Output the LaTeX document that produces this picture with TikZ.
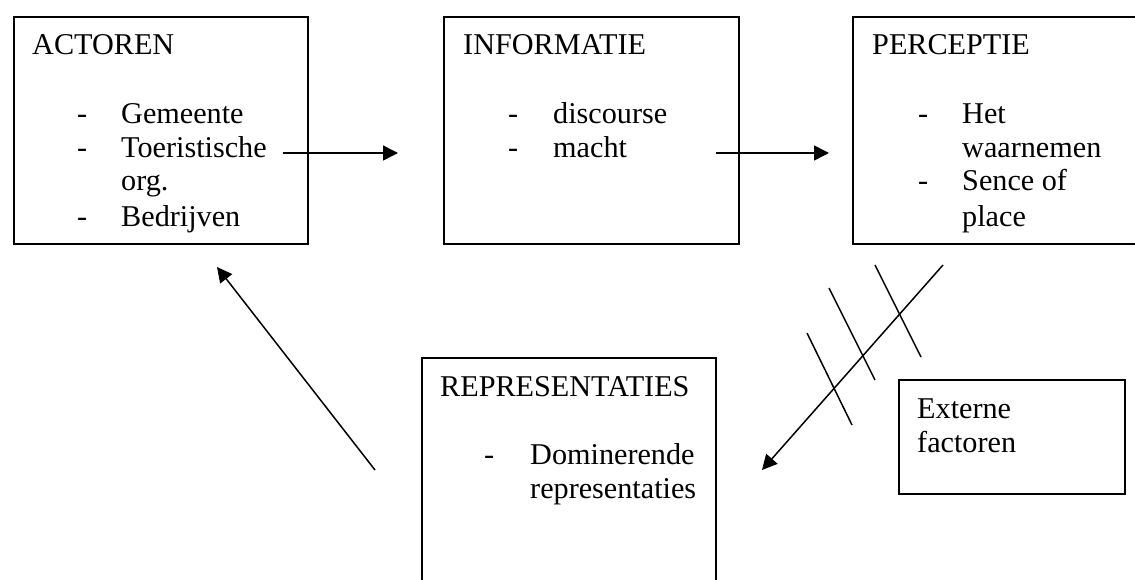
\documentclass[tikz,border=0pt]{standalone}
\usepackage{fontspec}
\setmainfont{Liberation Serif}
\usetikzlibrary{arrows.meta}

\begin{document}
\begin{tikzpicture}[x=1pt, y=-1pt,
  kader/.style={draw, line width=1.8pt, anchor=north west, inner sep=0pt},
  tekst/.style={anchor=base west, inner sep=0pt, font=\fontsize{30.2}{34}\selectfont},
  pijl/.style={line width=1.5pt, -{Triangle[length=15pt, width=15pt]}},
  streep/.style={line width=1.5pt}]
  \useasboundingbox (0,0) rectangle (1135,580);
  \clip (0,0) rectangle (1135,580);

  % kaders
  \node[kader, minimum width=294, minimum height=227] (actoren) at (13,16) {};
  \node[kader, minimum width=295, minimum height=227] (informatie) at (443,16) {};
  \node[kader, minimum width=320, minimum height=227] (perceptie) at (852,16) {};
  \node[kader, minimum width=294, minimum height=260] (repr) at (421,357) {};
  \node[kader, minimum width=226, minimum height=114] (extern) at (898,379) {};

  % ACTOREN
  \node[tekst] (t-act) at (32,55) {ACTOREN};
  \node[tekst] (s-act1) at (77,124) {-};
  \node[tekst] (s-act2) at (77,158) {-};
  \node[tekst] (s-act3) at (77,226) {-};
  \node[tekst] (i-act1) at (121,124) {Gemeente};
  \node[tekst] (i-act2) at (121,158) {Toeristische};
  \node[tekst] (i-act2b) at (121,191) {org.};
  \node[tekst] (i-act3) at (121,226) {Bedrijven};

  % INFORMATIE
  \node[tekst] (t-inf) at (463,55) {INFORMATIE};
  \node[tekst] (s-inf1) at (508,124) {-};
  \node[tekst] (s-inf2) at (508,158) {-};
  \node[tekst] (i-inf1) at (553,124) {discourse};
  \node[tekst] (i-inf2) at (553,158) {macht};

  % PERCEPTIE
  \node[tekst] (t-per) at (872,55) {PERCEPTIE};
  \node[tekst] (s-per1) at (918,124) {-};
  \node[tekst] (s-per2) at (918,191) {-};
  \node[tekst] (i-per1) at (962,124) {Het};
  \node[tekst] (i-per1b) at (962,158) {waarnemen};
  \node[tekst] (i-per2) at (962,191) {Sence of};
  \node[tekst] (i-per2b) at (962,226) {place};

  % REPRESENTATIES
  \node[tekst] (t-rep) at (440,396) {REPRESENTATIES};
  \node[tekst] (s-rep1) at (484,464) {-};
  \node[tekst] (i-rep1) at (530,464) {Dominerende};
  \node[tekst] (i-rep1b) at (530,498) {representaties};

  % Externe factoren
  \node[tekst] (t-ext) at (917,418) {Externe};
  \node[tekst] (t-ext2) at (917,452) {factoren};

  % pijlen
  \coordinate (p1-van) at (283,153);
  \coordinate (p1-naar) at (398,153);
  \coordinate (p2-van) at (716,153);
  \coordinate (p2-naar) at (829,153);
  \coordinate (p3-van) at (943,265);
  \coordinate (p3-naar) at (762,470);
  \coordinate (p4-van) at (375,470);
  \coordinate (p4-naar) at (217,267);
  \draw[pijl] (p1-van) -- (p1-naar);
  \draw[pijl] (p2-van) -- (p2-naar);
  \draw[pijl] (p3-van) -- (p3-naar);
  \draw[pijl] (p4-van) -- (p4-naar);

  % strepen door de pijl
  \coordinate (h1-a) at (807,333);
  \coordinate (h1-b) at (852,425);
  \coordinate (h2-a) at (829,288);
  \coordinate (h2-b) at (875,380);
  \coordinate (h3-a) at (875,265);
  \coordinate (h3-b) at (921,357);
  \draw[streep] (h1-a) -- (h1-b);
  \draw[streep] (h2-a) -- (h2-b);
  \draw[streep] (h3-a) -- (h3-b);
\end{tikzpicture}
\end{document}
